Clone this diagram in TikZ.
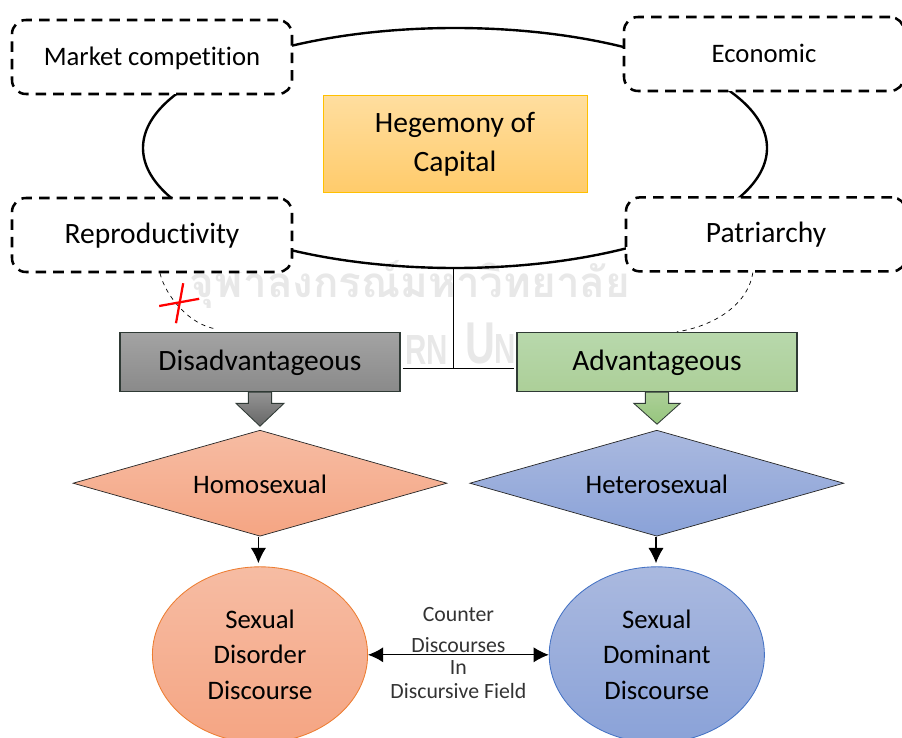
\documentclass[tikz,border=0pt]{standalone}
\usepackage{fontspec}
\setmainfont{Carlito}[Ligatures=NoCommon]
\newfontfamily\thaifont[Script=Thai]{Loma}
\newfontfamily\markfont[FakeStretch=0.7]{Liberation Sans}
\usetikzlibrary{shapes.geometric,arrows.meta}
\definecolor{ringgold}{HTML}{FFC000}
\definecolor{goldtop}{HTML}{FFDE9F}
\definecolor{goldend}{HTML}{FFCB6B}
\definecolor{oppgray}{HTML}{2F3A35}
\definecolor{salmonline}{HTML}{ED7D31}
\definecolor{blueline}{HTML}{4472C4}
\definecolor{salmontop}{HTML}{F6BCA3}
\definecolor{salmonend}{HTML}{F5A583}
\definecolor{bluetop}{HTML}{AAB9DF}
\definecolor{blueend}{HTML}{8AA2D8}
\tikzset{
  factorbox/.style={draw,fill=white,line width=1.8pt,rounded corners=0.35cm,
    minimum width=7cm,minimum height=1.85cm,dash pattern=on 7.5pt off 5pt,text height=16pt,text depth=3.8pt},
  groupbox/.style={draw=oppgray,line width=0.8pt,minimum width=7cm,minimum height=1.48cm,text height=16pt,text depth=3.8pt},
  stance/.style={diamond,draw=black!85,line width=0.5pt,aspect=3.53,minimum width=9.35cm,minimum height=2.65cm,inner sep=0pt,text height=16pt,text depth=1pt},
  discourse/.style={ellipse,minimum width=5.38cm,minimum height=4.4cm,align=center,
    inner sep=0pt,line width=0.6pt},
  tip/.style={-{Latex[length=0.38cm,width=0.38cm]}},
  watermark/.style={text=black!9,inner sep=0pt},
}
\begin{document}
\begin{tikzpicture}
    \clip (0,0) rectangle (22.55,-18.45);
    % watermark
    \node[watermark,font=\thaifont\bfseries\fontsize{30}{30}\selectfont] (markthai) at (10.25,-7.1) {จุฬาลงกรณ์มหาวิทยาลัย};
    \node[watermark,anchor=south east,font=\markfont\bfseries\fontsize{30}{30}\selectfont] (markname) at (11.2,-9.12) {RN};
    \node[watermark,anchor=south west,font=\markfont\bfseries\fontsize{30}{30}\selectfont] (markuni) at (11.62,-9.12) {{\fontsize{42}{42}\selectfont U}N};
    % ring and centre
    \node[draw,ellipse,line width=1.7pt,minimum width=15.6cm,minimum height=6cm] (ring) at (11.375,-3.7) {};
    \node[draw=ringgold,top color=goldtop,bottom color=goldend,line width=0.6pt,minimum width=6.6cm,minimum height=2.42cm,
      align=center,font=\fontsize{21}{27.5}\selectfont] (capital) at (11.375,-3.6) {Hegemony of\\Capital};
    % factors
    \node[factorbox,font=\fontsize{19}{20}\selectfont] (market) at (3.8,-1.425) {Market competition};
    \node[factorbox,font=\fontsize{19}{20}\selectfont] (economic) at (19.1,-1.35) {Economic};
    \node[factorbox,font=\fontsize{21}{20}\selectfont] (repro) at (3.8,-5.875) {Reproductivity};
    \node[factorbox,font=\fontsize{21}{20}\selectfont] (patriarchy) at (19.15,-5.86) {Patriarchy};
    % groups
    \node[groupbox,top color=black!36,bottom color=black!46,font=\fontsize{21}{20}\selectfont] (disadv) at (6.5,-9.05) {Disadvantageous};
    \node[groupbox,top color={rgb,255:red,184;green,216;blue,172},bottom color={rgb,255:red,172;green,207;blue,152},font=\fontsize{21}{20}\selectfont] (adv) at (16.425,-9.05) {Advantageous};
    \coordinate (junction) at (11.325,-9.22);
    \draw[line width=0.7pt] (ring.south -| junction) -- (junction);
    \draw[line width=0.7pt] ([xshift=0.05cm]disadv.east |- junction) -- ([xshift=-0.05cm]adv.west |- junction);
    % block arrows
    \draw[draw=oppgray,line width=0.6pt,top color=black!42,bottom color=black!60] (disadv.south) ++(-0.29,0) -- ++(0,-0.28) -- ++(-0.31,0)
      -- ++(0.6,-0.57) -- ++(0.6,0.57) -- ++(-0.31,0) -- ++(0,0.28) -- cycle;
    \draw[draw=oppgray,line width=0.6pt,top color={rgb,255:red,172;green,207;blue,152},bottom color={rgb,255:red,150;green,198;blue,125}] (adv.south) ++(-0.29,0) -- ++(0,-0.28) -- ++(-0.29,0)
      -- ++(0.58,-0.52) -- ++(0.58,0.52) -- ++(-0.29,0) -- ++(0,0.28) -- cycle;
    % thin links
    \draw[dashed,line width=0.5pt] ([xshift=0.2cm]repro.south) .. controls (4.13,-7.38) and (4.73,-8.13) .. ([xshift=-1.08cm,yshift=0.07cm]disadv.north);
    \draw[dashed,line width=0.5pt] ([xshift=-0.33cm]patriarchy.south) .. controls (18.7,-7.62) and (17.85,-8.15) .. ([xshift=0.5cm]adv.north);
    % red cross
    \draw[red,line width=1.6pt] (4.58,-7.08) -- (4.4,-8.08);
    \draw[red,line width=1.6pt] (3.98,-7.65) -- (4.98,-7.47);
    % stance
    \node[stance,top color=salmontop,bottom color=salmonend,font=\fontsize{19}{20}\selectfont] (homo) at (6.5,-12.08) {Homosexual};
    \node[stance,top color=bluetop,bottom color=blueend,font=\fontsize{19}{20}\selectfont] (hetero) at (16.42,-12.08) {Heterosexual};
    % discourse
    \node[discourse,draw=salmonline,top color=salmontop,bottom color=salmonend,font=\fontsize{19}{25}\selectfont] (disorder) at (6.5,-16.37)
      {Sexual\\Disorder\\Discourse};
    \node[discourse,draw=blueline,top color=bluetop,bottom color=blueend,font=\fontsize{19}{25}\selectfont] (dominant) at (16.42,-16.37)
      {Sexual\\Dominant\\Discourse};
    \draw[tip,line width=0.8pt] ([xshift=-0.04cm]homo.south) -- ([xshift=-0.04cm,yshift=0.08cm]disorder.north);
    \draw[tip,line width=0.8pt] ([xshift=-0.02cm]hetero.south) -- ([xshift=-0.02cm,yshift=0.08cm]dominant.north);
    \draw[{Latex[length=0.38cm,width=0.38cm]}-{Latex[length=0.38cm,width=0.38cm]},line width=0.8pt] (disorder) -- (dominant)
      node[midway,above=-0.07cm,align=center,text=black!80,font=\fontsize{15.5}{21.5}\selectfont] (countertext) {Counter\\Discourses}
      node[midway,below=0.02cm,align=center,text=black!80,font=\fontsize{15.5}{16.5}\selectfont] (fieldtext) {In\\Discursive Field};
\end{tikzpicture}
\end{document}
